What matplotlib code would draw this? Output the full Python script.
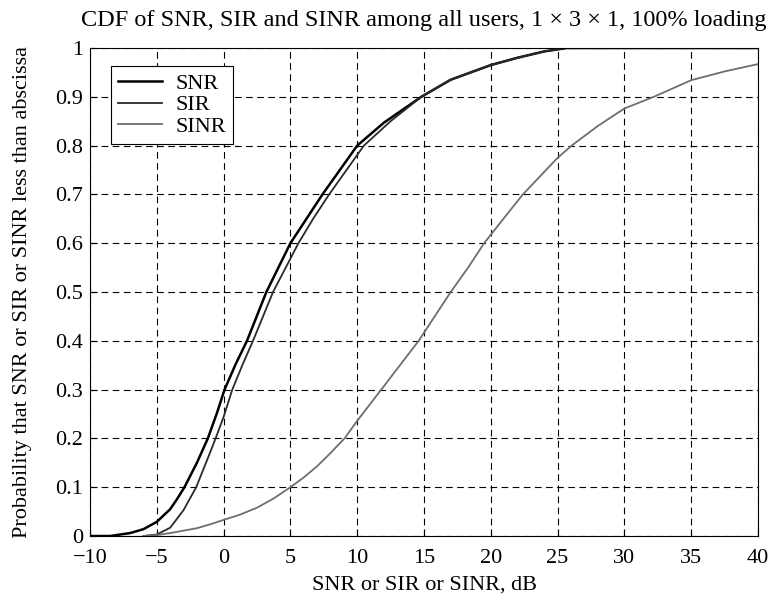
import matplotlib.pyplot as plt

plt.rcParams['font.family'] = ['Liberation Serif', 'DejaVu Serif']

# values (dB, probability)
snr_x = [-10, -8.5, -7, -6, -5, -4, -3.5, -2.93, -2, -1.18, -0.5, 0.07, 0.9,
         1.75, 3.2, 5.0, 6.2, 7.4, 8.7, 10.0, 12, 14.8, 17, 20, 22, 24, 25.7, 40]
snr_y = [0, 0, 0.006, 0.014, 0.029, 0.055, 0.075, 0.1, 0.15, 0.2, 0.252, 0.3,
         0.352, 0.4, 0.5, 0.6, 0.65, 0.7, 0.75, 0.8, 0.847, 0.9, 0.935, 0.965,
         0.98, 0.993, 1.0, 1.0]

sir_x = [-6, -5, -4, -3, -2.05, -1, -0.6, 0, 0.65, 1.4, 2.2, 3.7, 5.6, 6.7,
         7.9, 9.2, 10.5, 12.5, 14.8, 17, 20, 22, 24, 25.7, 40]
sir_y = [0, 0.003, 0.017, 0.053, 0.1, 0.172, 0.2, 0.244, 0.3, 0.35, 0.4, 0.5,
         0.6, 0.65, 0.7, 0.75, 0.8, 0.85, 0.9, 0.935, 0.965, 0.98, 0.993, 1.0,
         1.0]

sinr_x = [-6, -5, -4, -2, -1, 0, 1.25, 2.5, 3.75, 5, 6, 7, 8, 9.05, 10, 11.8,
          13.2, 14.6, 15.8, 17.0, 18.3, 19.5, 21.0, 22.4, 25, 26.05, 28, 30,
          32.2, 35, 37.5, 40]
sinr_y = [0, 0.002, 0.006, 0.016, 0.024, 0.033, 0.044, 0.058, 0.077, 0.1,
          0.12, 0.143, 0.17, 0.2, 0.236, 0.3, 0.35, 0.4, 0.45, 0.5, 0.55, 0.6,
          0.652, 0.7, 0.775, 0.8, 0.84, 0.876, 0.9, 0.934, 0.952, 0.967]

xticks = [-10, -5, 0, 5, 10, 15, 20, 25, 30, 35, 40]
yticks = [0, 0.1, 0.2, 0.3, 0.4, 0.5, 0.6, 0.7, 0.8, 0.9, 1]
ytick_labels = ['0', '0.1', '0.2', '0.3', '0.4', '0.5', '0.6', '0.7', '0.8', '0.9', '1']

fig = plt.figure(figsize=(7.78, 6.03), dpi=100)
ax = fig.add_axes([0.1157, 0.1111, 0.8586, 0.8093])

ax.plot(snr_x, snr_y, color='black', lw=1.8, label='SNR')
ax.plot(sir_x, sir_y, color='#2a2a2a', lw=1.3, label='SIR')
ax.plot(sinr_x, sinr_y, color='#6e6e6e', lw=1.3, label='SINR')

ax.set_xlim(-10, 40)
ax.set_ylim(0, 1)
ax.set_xticks(xticks)
ax.set_xticklabels([str(t).replace('-', '\u2212') for t in xticks])
ax.set_yticks(yticks)
ax.set_yticklabels(ytick_labels)
ax.tick_params(direction='in', length=5, labelsize=16, colors='black')
ax.tick_params(axis='x', pad=9)
ax.tick_params(axis='y', pad=5)
ax.grid(True, color='black', linestyle=(0, (6, 4)), lw=0.8)
for s in ax.spines.values():
    s.set_linewidth(0.8)

ax.set_xlabel('SNR or SIR or SINR, dB', fontsize=16, labelpad=6)
ax.set_ylabel('Probability that SNR or SIR or SINR less than abscissa', fontsize=16, labelpad=17)
ax.set_title('CDF of SNR, SIR and SINR among all users, 1 \u00d7 3 \u00d7 1, 100% loading',
             fontsize=17.5, pad=16)

leg = ax.legend(loc='upper left', fontsize=16, fancybox=False, framealpha=1,
                edgecolor='black', handlelength=2.0, borderpad=0.3,
                labelspacing=0.05, handletextpad=0.6, bbox_to_anchor=(0.015, 0.985))
leg.get_frame().set_linewidth(0.8)

fig.savefig('out.png', dpi=100)
